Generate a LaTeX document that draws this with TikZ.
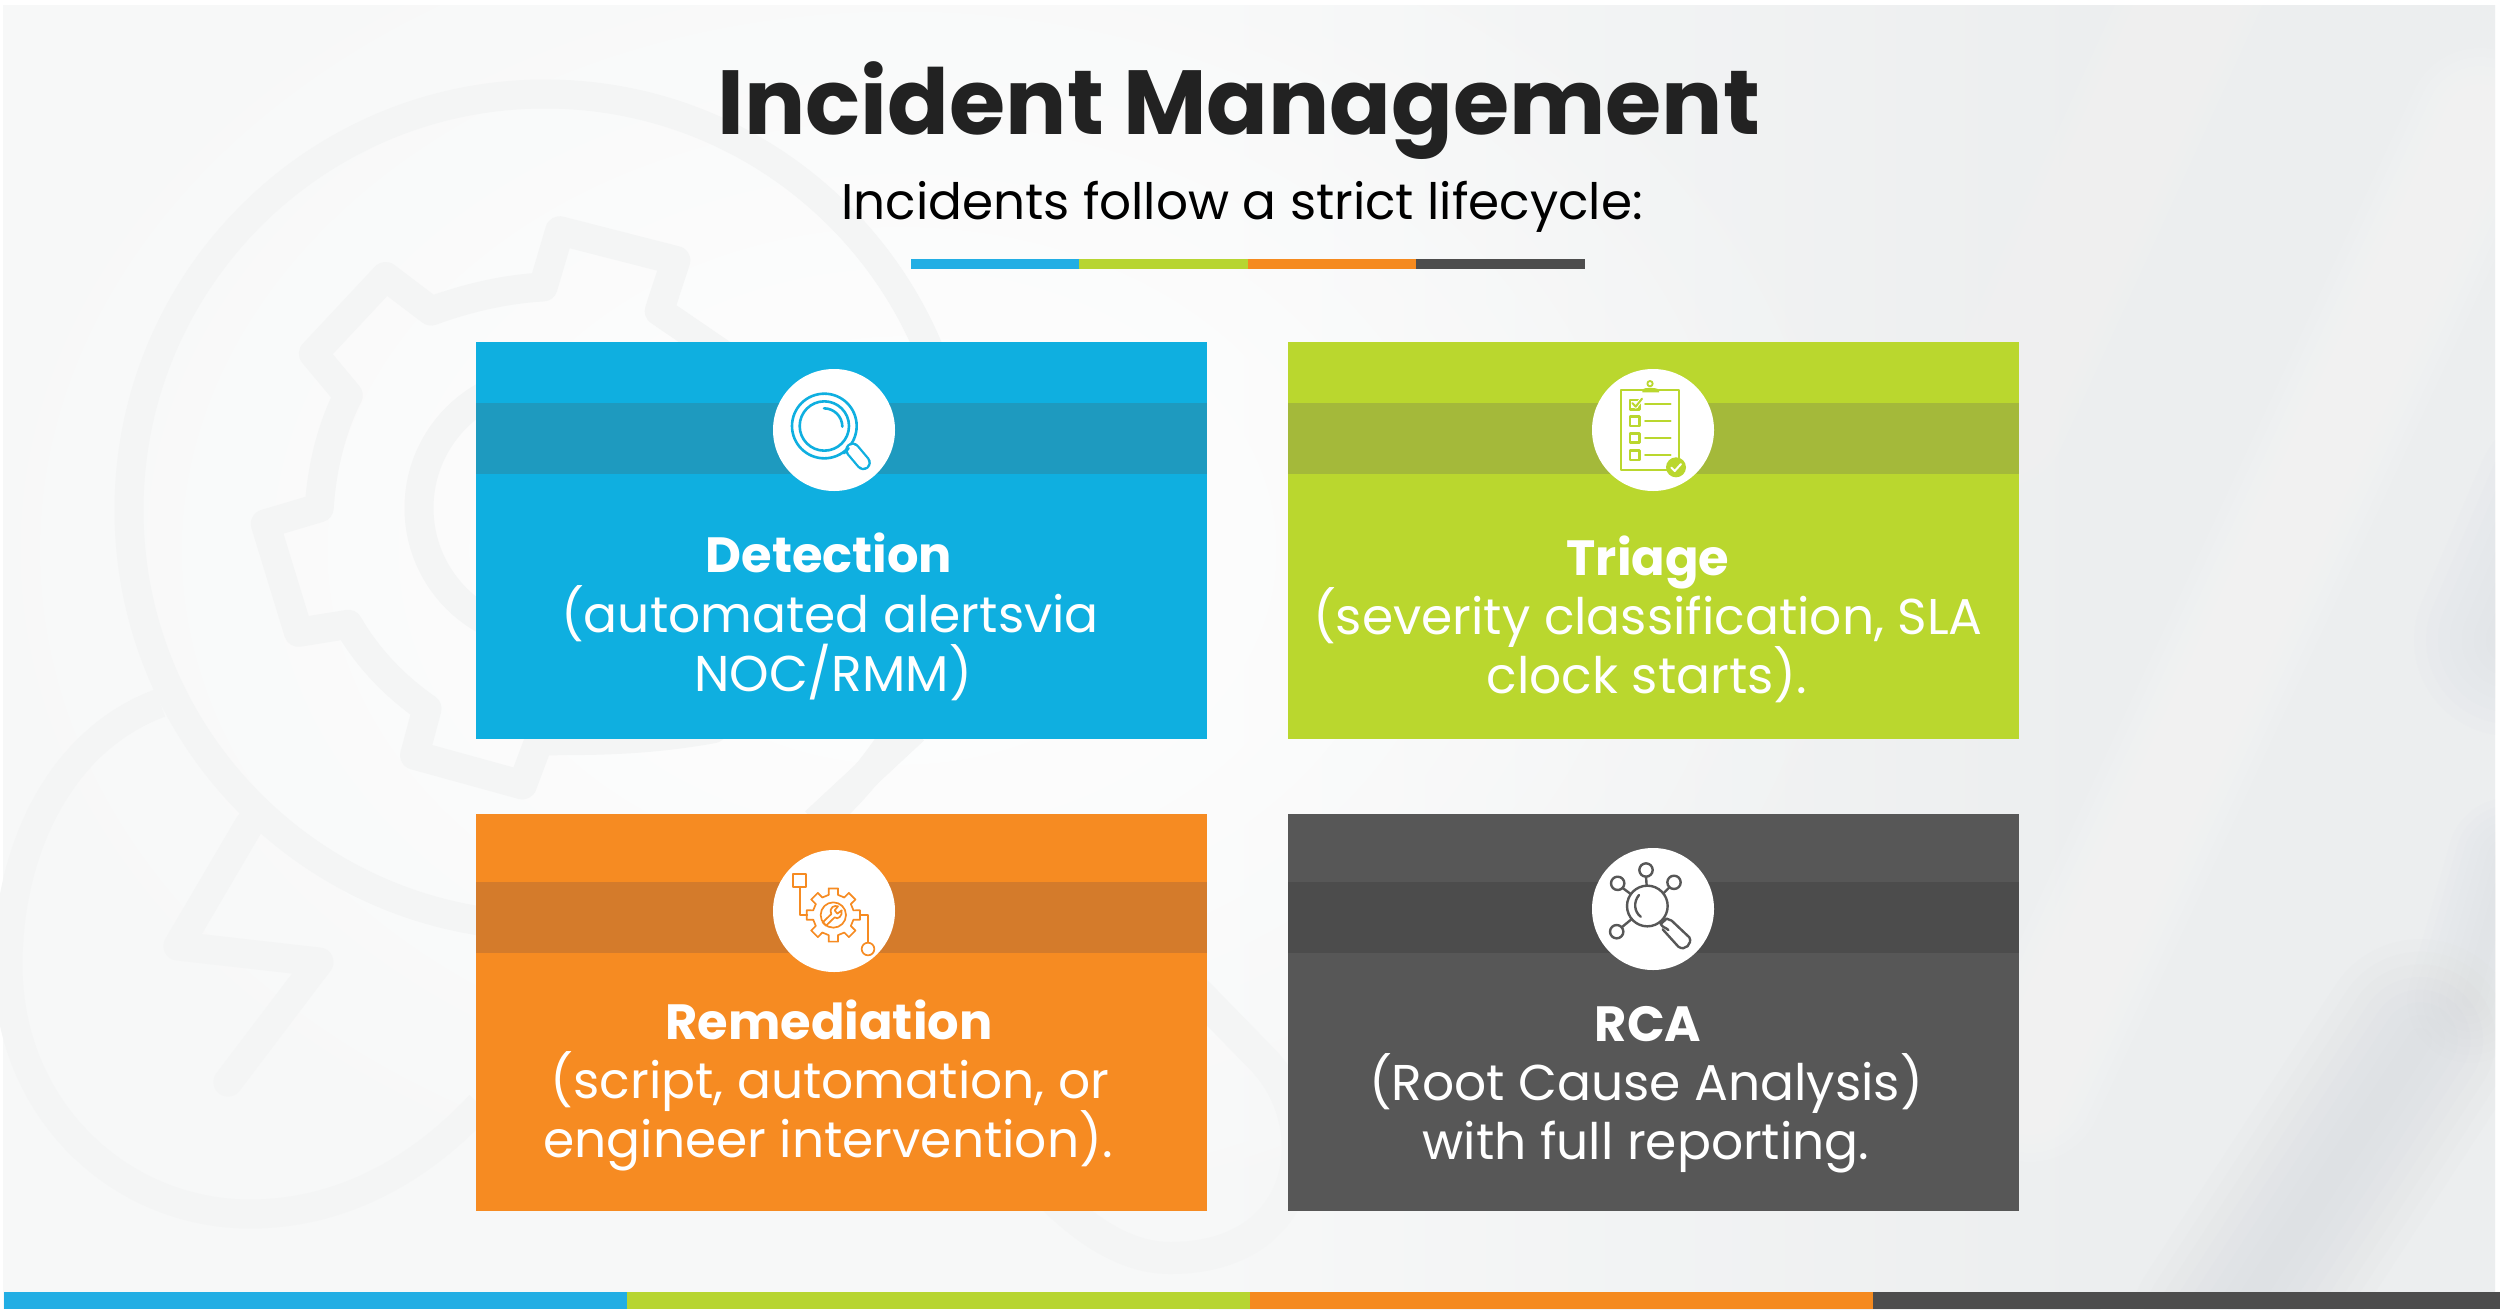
\documentclass[tikz,border=0pt]{standalone}
\usepackage{fontspec}
\usetikzlibrary{fadings}
\setmainfont{Poppins}
\definecolor{cblue}{HTML}{0FAFE0}\definecolor{bblue}{HTML}{1E9ABF}
\definecolor{cgreen}{HTML}{BAD72E}\definecolor{bgreen}{HTML}{A4B93A}
\definecolor{corange}{HTML}{F68B22}\definecolor{borange}{HTML}{D47B2B}
\definecolor{cgray}{HTML}{575757}\definecolor{bgray}{HTML}{4C4C4C}
\definecolor{sblue}{HTML}{22AEE4}\definecolor{sgreen}{HTML}{B7D531}
\definecolor{sorange}{HTML}{F58A1F}\definecolor{sgray}{HTML}{4D4D4D}
\definecolor{wm}{HTML}{F4F5F5}
\definecolor{bgbase}{HTML}{F7F8F8}
\definecolor{bgright}{HTML}{ECEEEF}
\definecolor{bgdark}{HTML}{D5D9DE}
\tikzfading[name=cornerfade,inner color=transparent!0,outer color=transparent!100]
% soft diagonal streak: colour, from, to, maximal width, opacity of one layer
\newcommand{\softstroke}[5]{%
  \foreach \w in {.12,.24,...,1.0}{
    \draw[#1,line cap=round,line width=\w*#4 pt,opacity=#5] #2 -- #3;
  }}
\tikzset{
  wmline/.style={draw=wm,line width=29pt,line join=round,line cap=round,fill=none},
  cardbody/.style={font=\fontsize{50.3}{59}\selectfont,text=white,anchor=base,inner sep=0pt},
  cardhead/.style={font=\fontsize{49.5}{59}\selectfont\bfseries,text=white,anchor=base,inner sep=0pt},
  badge/.style={circle,fill=white,minimum size=122pt,inner sep=0pt},
  icon/.style={line width=2.2pt,line join=round,line cap=round},
  zoomed/.style={x=0.33333pt,y=-0.33333pt},
}
\begin{document}
\begin{tikzpicture}[x=1pt,y=-1pt]
\useasboundingbox (0,0) rectangle (2500,1309);
% background
\fill[white] (0,0) rectangle (2500,1309);
\begin{scope}
\clip (3,5) rectangle (2495,1309);
\fill[bgbase] (0,0) rectangle (1200,1309);
\shade[left color=bgbase,right color=bgright] (1199,0) rectangle (2100,1309);
\fill[bgright] (2099,0) rectangle (2500,1309);
\fill[white,path fading=cornerfade,fit fading=true] (-100,-200) rectangle (1900,1300);
% light streaks
\softstroke{white}{(2030,1090)}{(2480,120)}{150}{.07}
\softstroke{white}{(2000,420)}{(2200,-20)}{140}{.06}
\softstroke{white}{(2030,1200)}{(2140,960)}{120}{.05}
\softstroke{white}{(1500,1000)}{(1800,350)}{260}{.03}
% darker patches
\softstroke{bgdark}{(2510,640)}{(2570,500)}{200}{.06}
\softstroke{bgdark}{(2230,1330)}{(2420,1040)}{210}{.08}
\softstroke{bgdark}{(2510,860)}{(2470,1000)}{130}{.06}
\end{scope}
% watermark
\draw[wmline] (545,510) circle[radius=416];
\draw[wmline] (547,508) circle[radius=128];
\begin{scope}[shift={(0,50)},x=0.8292pt,y=-0.8032pt]
\draw[wmline] (880,385) -- (795,325) -- (815,262) -- (675,225) -- (655,295)
  .. controls (605,298) and (560,310) .. (520,325) -- (465,282) -- (378,378) -- (420,430)
  .. controls (400,470) and (388,520) .. (385,570) -- (320,590) -- (360,725) -- (420,715)
  .. controls (445,760) and (480,795) .. (515,820) -- (500,878) -- (630,915) -- (650,860)
  .. controls (715,860) and (780,860) .. (860,845);
\end{scope}
\draw[wmline,line cap=butt] (914,730) -- (815,822);
\draw[wmline,line cap=butt] (160,703) .. controls (60,740) and (8,850) .. (8,965)
  .. controls (8,1110) and (120,1214) .. (250,1214) .. controls (330,1214) and (410,1180) .. (480,1105);
\draw[wmline] (249,825) -- (178,946) -- (319,962) -- (228,1082);
\draw[wmline,line width=32pt,line cap=butt] (1180,975) -- (1263,1060)
  .. controls (1325,1125) and (1310,1258) .. (1170,1258) .. controls (1130,1258) and (1090,1235) .. (1050,1195);
% title
\node[anchor=base,inner sep=0pt,text={rgb,255:red,34;green,34;blue,34},font=\fontsize{91}{100}\selectfont\bfseries] (title) at (1239,134) {Incident Management};
\node[anchor=base,inner sep=0pt,text=black,font=\fontsize{50.1}{60}\selectfont] (subtitle) at (1242,219) {Incidents follow a strict lifecycle:};
% top strip
\fill[sblue] (911,259) rectangle (1079,269);
\fill[sgreen] (1079,259) rectangle (1248,269);
\fill[sorange] (1248,259) rectangle (1416,269);
\fill[sgray] (1416,259) rectangle (1585,269);
% bottom strip
\fill[sblue] (4,1292) rectangle (627,1309);
\fill[sgreen] (627,1292) rectangle (1250,1309);
\fill[sorange] (1250,1292) rectangle (1873,1309);
\fill[sgray] (1873,1292) rectangle (2500,1309);
% cards
\fill[cblue] (476,342) rectangle (1207,739);
\fill[bblue] (476,403) rectangle (1207,474);
\fill[cgreen] (1288,342) rectangle (2019,739);
\fill[bgreen] (1288,403) rectangle (2019,474);
\fill[corange] (476,814) rectangle (1207,1211);
\fill[borange] (476,882) rectangle (1207,953);
\fill[cgray] (1288,814) rectangle (2019,1211);
\fill[bgray] (1288,882) rectangle (2019,953);
\node[badge] (b1) at (834,430) {};
\node[badge] (b2) at (1653,430) {};
\node[badge] (b3) at (834,911) {};
\node[badge] (b4) at (1653,909) {};
% texts
\node[cardhead] (t1) at (829,572) {Detection};
\node[cardbody] (t1a) at (830,632) {(automated alertsvia};
\node[cardbody] (t1b) at (833,691) {NOC/RMM)};
\node[cardhead] (t2) at (1648,575) {Triage};
\node[cardbody] (t2a) at (1648,634) {(severity classification, SLA};
\node[cardbody] (t2b) at (1647,693) {clock starts).};
\node[cardhead] (t3) at (829,1039) {Remediation};
\node[cardbody] (t3a) at (830,1098) {(script, automation, or};
\node[cardbody] (t3b) at (828,1157) {engineer intervention).};
\node[cardhead] (t4) at (1648,1041) {RCA};
\node[cardbody] (t4a) at (1646,1100) {(Root Cause Analysis)};
\node[cardbody] (t4b) at (1646,1159) {with full reporting.};
% icon 1: magnifier
\begin{scope}[shift={(740,350)},zoomed,icon,draw=cblue]
\draw[line width=2.6pt] (253,228) circle[radius=97];
\draw[line width=2.6pt] (253,228) circle[radius=74];
\draw[line width=2.6pt] (252,175) arc[start angle=-90,end angle=0,radius=55];
\draw (322,297) -- (335,310);
\draw[cblue,line width=15pt] (338,300) -- (370,338);
\draw[white,line width=10.4pt] (338,300) -- (370,338);
\draw[line width=2.4pt] (326,295) -- (312,310);
\end{scope}
% icon 2: clipboard
\begin{scope}[shift={(1570,350)},zoomed,icon,draw=cgreen,line width=2pt]
\draw (217,120) -- (153,120) -- (153,360) -- (290,360);
\draw (267,120) -- (328,120) -- (328,325);
\fill[cgreen] (217,127) -- (217,118) .. controls (225,112) and (255,112) .. (267,118) -- (267,127) -- cycle;
\draw[line width=1.8pt] (240,101) circle[radius=8];
\draw[line width=2.4pt] (180,150) rectangle (208,178);
\draw[line width=2.4pt] (180,200) rectangle (208,228);
\draw[line width=2.4pt] (180,250) rectangle (208,278);
\draw[line width=2.4pt] (180,302) rectangle (208,330);
\draw[white,line width=4pt] (191,162) -- (197,170) -- (216,146);
\draw[line width=2pt] (187,159) -- (197,170) -- (216,146);
\draw (225,163) -- (302,163);
\draw (225,214) -- (302,214);
\draw (225,265) -- (302,265);
\draw (225,315) -- (302,315);
\fill[cgreen] (318,352) circle[radius=30];
\draw[white,line width=2pt] (304,353) -- (314,363) -- (333,342);
\end{scope}
% icon 3: gear and wrench
\begin{scope}[shift={(750,830)},zoomed,icon,draw=corange,line width=1.7pt]
\draw (130,133) rectangle (168,170);
\draw (149,170) -- (149,255) -- (172,255);
\draw (330,255) -- (354,255) -- (354,338);
\draw (354,357) circle[radius=19];
\begin{scope}[shift={(250,255)}]
\foreach \a in {0,45,...,315}{
  \draw (\a-13:62) -- (\a-10:81) -- (\a+10:81) -- (\a+13:62) -- (\a+32:62);
}
\draw (0,0) circle[radius=38];
\draw (-32,22) -- (-6,-3) .. controls (-14,-24) and (4,-30) .. (14,-26) -- (4,-14) -- (12,-4) -- (25,-14)
  .. controls (28,2) and (14,16) .. (4,7) -- (-22,32) -- cycle;
\end{scope}
\end{scope}
% icon 4: analysis
\begin{scope}[shift={(1570,830)},zoomed,icon,draw=cgray,line width=2.4pt]
\draw (232,228) circle[radius=61];
\draw (207,195) .. controls (190,215) and (192,245) .. (212,260);
\draw (143,160) circle[radius=20];
\draw (228,120) circle[radius=20];
\draw (312,157) circle[radius=20];
\draw (140,305) circle[radius=20];
\draw (158,174) -- (182,192);
\draw (228,140) -- (230,167);
\draw (298,172) -- (280,190);
\draw (155,292) -- (184,268);
\draw (272,282) -- (290,266);
\draw (272,282) .. controls (280,295) and (285,290) .. (295,300);
\draw (290,266) -- (305,272) -- (358,322) .. controls (368,340) and (345,365) .. (325,350) -- (278,298);
\end{scope}
\end{tikzpicture}
\end{document}
